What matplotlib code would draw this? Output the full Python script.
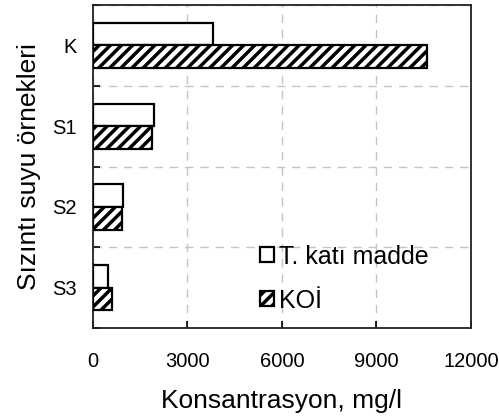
import matplotlib
matplotlib.use("Agg")
import matplotlib.pyplot as plt
import numpy as np
from matplotlib.patches import Patch

plt.rcParams['font.family'] = ['Liberation Sans', 'DejaVu Sans']
plt.rcParams['hatch.linewidth'] = 2.5

categories = ["K", "S1", "S2", "S3"]
tkm = [3800, 1930, 970, 490]      # T. katı madde
koi = [10600, 1880, 930, 620]      # KOİ
xticks = [0, 3000, 6000, 9000, 12000]

fig = plt.figure(figsize=(4.99, 4.19), dpi=100)
ax = fig.add_axes([0.186, 0.217, 0.758, 0.771])

n = len(categories)
pos = np.arange(n)[::-1]  # K at top
h = 0.28
ax.barh(pos + 0.14, tkm, height=h, color='white', edgecolor='black', linewidth=1.6, label='T. katı madde', zorder=3)
ax.barh(pos - 0.14, koi, height=h, color='white', edgecolor='black', linewidth=1.6, hatch='///', label='KOİ', zorder=3)

ax.set_xlim(0, 12000)
ax.set_ylim(-0.5, n - 0.5)
ax.set_xticks(xticks)
ax.set_xticklabels([str(v) for v in xticks], fontsize=14.5)
ax.set_yticks(pos)
ax.set_yticklabels(categories, fontsize=14.5)
ax.set_yticks(np.arange(n + 1) - 0.5, minor=True)
ax.tick_params(axis='y', which='major', length=0, pad=11.5)
ax.tick_params(axis='y', which='minor', direction='in', length=5, width=1.2)
ax.tick_params(axis='x', which='major', direction='in', length=5, width=1.2, pad=17)

ax.grid(axis='x', which='major', color='#c4c4c4', linestyle=(0, (6, 5)), linewidth=1)
ax.grid(axis='y', which='minor', color='#c4c4c4', linestyle=(0, (6, 5)), linewidth=1)
ax.set_axisbelow(True)
for s in ax.spines.values():
    s.set_linewidth(1.3)
    s.set_color('#222222')

ax.set_xlabel("Konsantrasyon, mg/l", fontsize=19, labelpad=13)
ax.set_ylabel("Sızıntı suyu örnekleri", fontsize=19, labelpad=8)

handles = [Patch(facecolor='white', edgecolor='black', linewidth=1.6),
           Patch(facecolor='white', edgecolor='black', linewidth=1.6, hatch='///')]
ax.legend(handles, ['T. katı madde', 'KOİ'], loc='center left', frameon=False,
          fontsize=18, handlelength=0.55, handleheight=0.55, handletextpad=0.2,
          labelspacing=0.8, borderpad=0, borderaxespad=0,
          bbox_to_anchor=(0.442, 0.153))

fig.savefig("out.png", dpi=100)
